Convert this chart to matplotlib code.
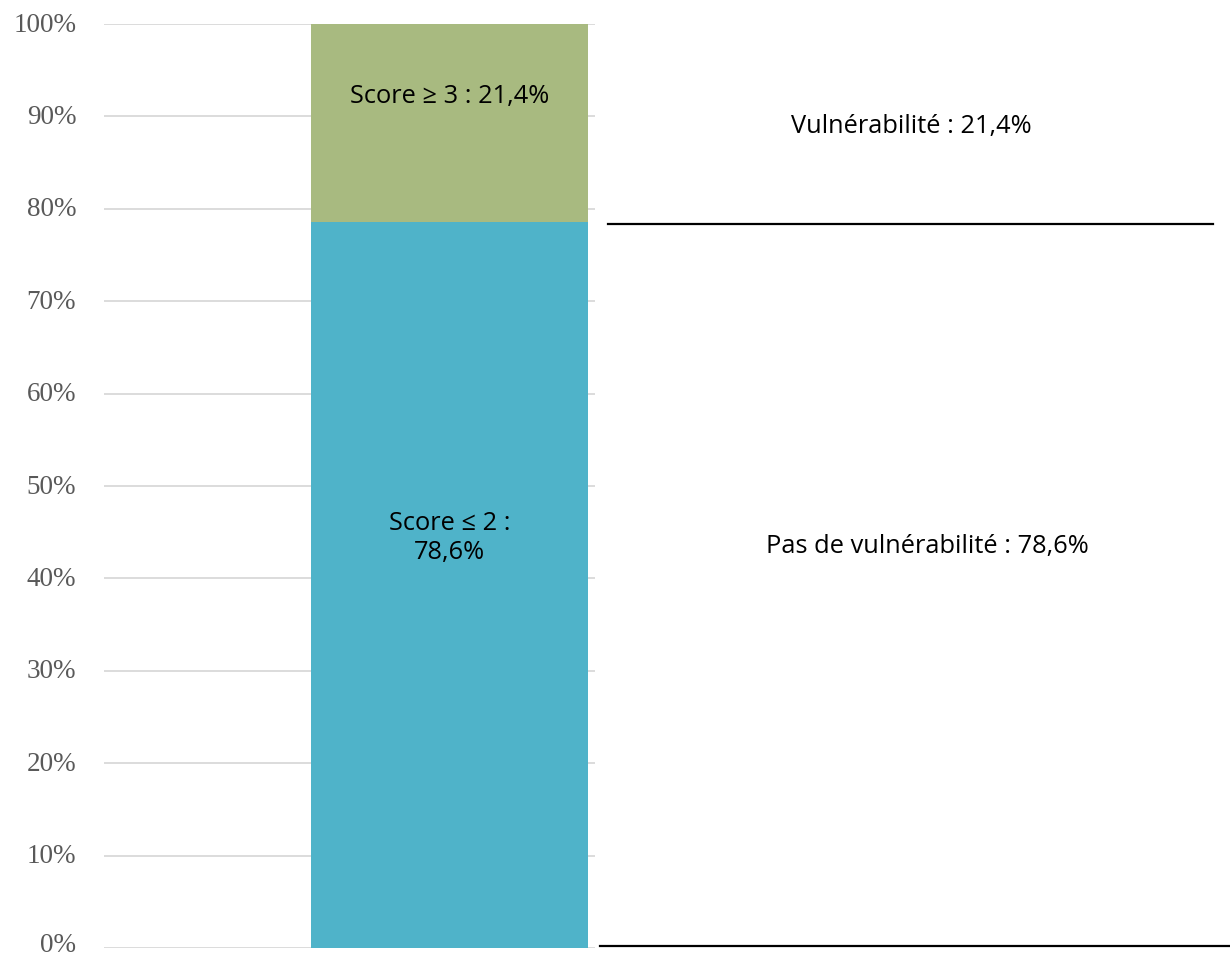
import matplotlib.pyplot as plt
from matplotlib.lines import Line2D
from matplotlib.transforms import ScaledTranslation

categories = ["Score"]
low_vals = [78.6]
high_vals = [21.4]
yticks = [0, 10, 20, 30, 40, 50, 60, 70, 80, 90, 100]
bar_labels = ["Score \u2264 2 :\n78,6%", "Score \u2265 3 : 21,4%"]
side_labels = ["Pas de vuln\u00e9rabilit\u00e9 : 78,6%", "Vuln\u00e9rabilit\u00e9 : 21,4%"]

W, H = 1230, 958
fig = plt.figure(figsize=(W / 100, H / 100), dpi=100)
ax = fig.add_axes([104 / W, 1 - 948 / H, (595 - 104) / W, (948 - 24) / H])

blue = "#4FB3C9"
green = "#A8BA80"
x0 = (311 - 104) / (595 - 104)
bw = (588 - 311) / (595 - 104)
ax.bar([x0], low_vals, width=bw, align="edge", color=blue, zorder=2)
ax.bar([x0], high_vals, bottom=low_vals, width=bw, align="edge", color=green, zorder=2)

ax.set_xlim(0, 1)
ax.set_ylim(0, 100)
ax.set_yticks(yticks)
ax.set_yticklabels([f"{v}%" for v in yticks], fontfamily="Liberation Serif",
                   fontsize=19.5, color="#595959")
ax.tick_params(axis="y", length=0, pad=20)
labels = ax.get_yticklabels()
for i, lbl in enumerate(labels):
    dy = 6 if i == 0 else 2
    lbl.set_transform(lbl.get_transform() + ScaledTranslation(0, dy / 100, fig.dpi_scale_trans))
ax.set_xticks([])
ax.grid(axis="y", color="#D9D9D9", linewidth=1.3, zorder=0)
for s in ax.spines.values():
    s.set_visible(False)

tf = dict(fontfamily="Open Sans", fontsize=18.3, color="black", ha="center", va="center")
xc = x0 + bw / 2
ax.text(xc, 44.4, bar_labels[0], linespacing=1.2, **tf)
ax.text(xc, 92.2, bar_labels[1], **tf)

fig.text(911 / W, 1 - 127 / H, side_labels[1], **tf, transform=fig.transFigure)
fig.text(927 / W, 1 - 546 / H, side_labels[0], **tf, transform=fig.transFigure)

fig.add_artist(Line2D([608 / W, 1213 / W], [1 - 224 / H, 1 - 224 / H],
                      color="black", linewidth=1.6, transform=fig.transFigure))
fig.add_artist(Line2D([600 / W, 1230 / W], [1 - 946 / H, 1 - 946 / H],
                      color="black", linewidth=1.6, transform=fig.transFigure))

fig.savefig("out.png", dpi=100)
